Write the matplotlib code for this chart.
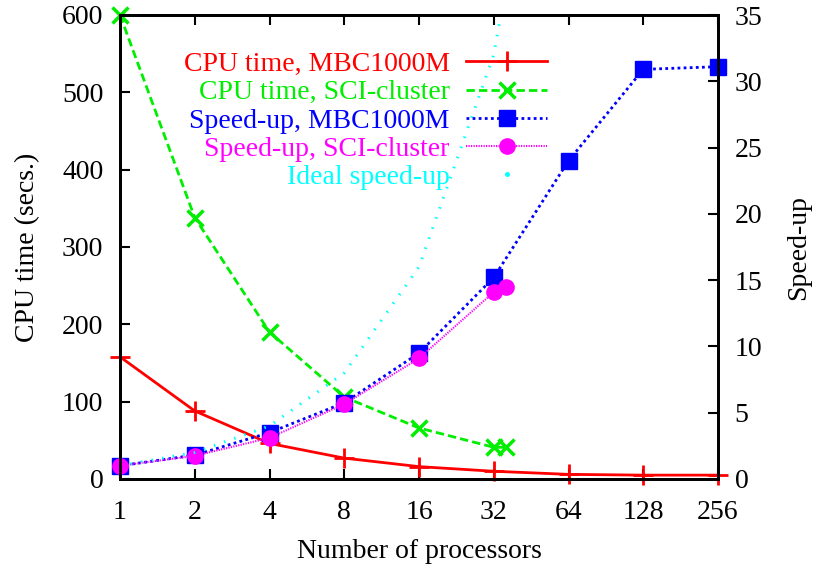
import matplotlib
matplotlib.use("Agg")
import matplotlib.pyplot as plt
from matplotlib.lines import Line2D

# processors
procs = [1, 2, 4, 8, 16, 32, 64, 128, 256]
procs_sci = [1, 2, 4, 8, 16, 32, 36]

# CPU time (secs.)
cpu_mbc = [158, 88, 46, 27, 16, 10, 6, 5, 5]
cpu_sci = [600, 338, 190, 106, 66, 41, 41]

# speed-up
sp_mbc = [1.0, 1.8, 3.5, 5.75, 9.5, 15.2, 24.0, 30.9, 31.1]
sp_sci = [1.0, 1.75, 3.1, 5.65, 9.1, 14.1, 14.5]
ideal_x = [1, 2, 4, 8, 16, 32, 64]
ideal = [1, 2, 4, 8, 16, 32, 64]

xticks = [1, 2, 4, 8, 16, 32, 64, 128, 256]

plt.rcParams['font.family'] = ['Liberation Serif', 'DejaVu Serif']
plt.rcParams['font.size'] = 20

fig = plt.figure(figsize=(8.15, 5.71), dpi=100)
ax = fig.add_axes([120/815, 1-479/571, 598/815, 464/571])
ax2 = ax.twinx()

l1, = ax.plot(procs, cpu_mbc, color='red', lw=2, marker='+', ms=14, mew=2,
              clip_on=False, label='CPU time, MBC1000M')
l2, = ax.plot(procs_sci, cpu_sci, color='#00ee00', lw=2, ls=(0, (3, 1.5)), marker='x',
              ms=12, mew=2.5, clip_on=False, label='CPU time, SCI-cluster')
l3, = ax2.plot(procs, sp_mbc, color='blue', lw=2, ls=(0, (1, 1.2)), marker='s',
               ms=11, clip_on=False, label='Speed-up, MBC1000M')
l4, = ax2.plot(procs_sci, sp_sci, color='magenta', lw=1.5, ls=(0, (0.6, 0.6)), marker='o',
               ms=11, clip_on=False, label='Speed-up, SCI-cluster')
ax2.plot(ideal_x, ideal, color='cyan', lw=2.2, ls=(0, (0.5, 3.0)))
# legend shows the ideal curve as a single dot
l5 = Line2D([], [], color='cyan', marker='.', ms=5, ls='none', label='Ideal speed-up')

ax.set_xscale('log', base=2)
ax.set_xlim(1, 256)
ax.set_xticks(xticks)
ax.set_xticklabels([str(t) for t in xticks])
ax.minorticks_off()
ax.set_ylim(0, 600)
ax.set_yticks(range(0, 601, 100))
ax2.set_ylim(0, 35)
ax2.set_yticks(range(0, 36, 5))

ax.tick_params(axis='x', which='both', direction='in', top=True, length=7, width=1.5, pad=15)
ax.tick_params(axis='y', direction='in', length=7, width=1.5, pad=12)
ax2.tick_params(axis='y', direction='in', length=7, width=1.5, pad=12)
for a in (ax, ax2):
    for s in a.spines.values():
        s.set_linewidth(2)

ax.set_xlabel('Number of processors', labelpad=10)
ax.set_ylabel('CPU time (secs.)', labelpad=16)
ax2.set_ylabel('Speed-up', labelpad=17)

leg = ax2.legend(handles=[l1, l2, l3, l4, l5], loc='upper right',
                 bbox_to_anchor=(0.714, 0.921), frameon=False, markerfirst=False,
                 labelcolor='linecolor', handlelength=2.9, handletextpad=0.6,
                 labelspacing=0.1, borderpad=0, borderaxespad=0, fontsize=20)

fig.savefig('out.png', dpi=100)
